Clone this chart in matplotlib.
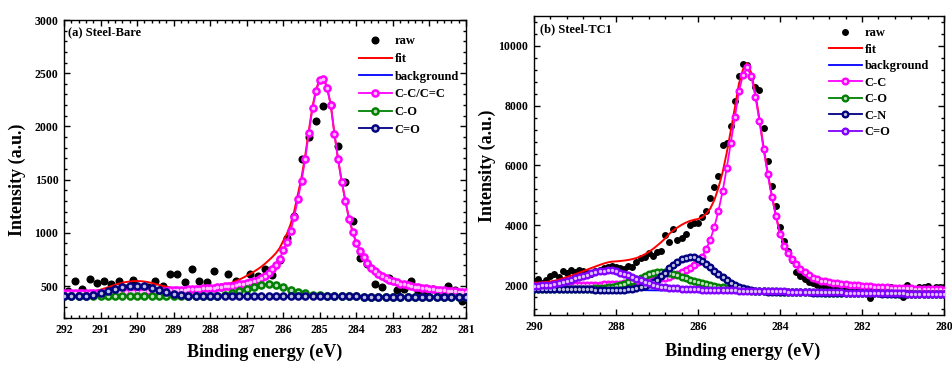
import numpy as np
import matplotlib
matplotlib.use('Agg')
import matplotlib.pyplot as plt
from matplotlib.ticker import MultipleLocator

plt.rcParams['font.family'] = 'Liberation Serif'
plt.rcParams['font.weight'] = 'bold'
plt.rcParams['axes.labelweight'] = 'bold'

# ---------------- (a) Steel-Bare ----------------
# energy grid of the fitted curves, 0.1 eV step
energy_a = np.linspace(292.0, 281.0, 111)
# raw spectrum, 0.2 eV step
raw_e_a = np.linspace(291.9, 281.1, 55)
raw_a = [455, 548, 477, 562, 533, 546, 522, 546, 480, 555,
         470, 490, 546, 500, 612, 612, 538, 658, 552, 540,
         642, 490, 610, 552, 500, 612, 598, 662, 600, 745,
         950, 1160, 1692, 1900, 2050, 2193, 2198, 1815, 1476, 1113,
         767, 708, 515, 487, 574, 462, 475, 550, 455, 440,
         470, 445, 500, 465, 360]

background_a = [406] * 16 + [405] * 18 + [404] * 16 + [403] * 16 + [402] * 16 + [401] * 16 + [400] * 13

# peak heights above the background
cc_a = [27, 27, 28, 28, 29, 29, 30, 30, 31, 32, 32, 33, 34, 34, 35, 36,
        38, 39, 40, 41, 42, 43, 44, 46, 47, 48, 50, 51, 53, 54, 56, 58, 60, 62,
        65, 67, 69, 71, 74, 76, 79, 82, 85, 88, 92, 96, 100, 105, 111, 117,
        125, 134, 144, 157, 174, 195, 222, 255, 297, 352, 432, 512, 612, 747, 917, 1082,
        1293, 1538, 1768, 1933, 2038, 2048, 1958, 1798, 1528, 1288, 1078, 898, 728, 608, 503, 428,
        369, 311, 271, 239, 213, 191, 172, 157, 144, 133, 123, 114, 106, 99, 93, 87,
        83, 78, 74, 69, 65, 62, 59, 56, 53, 50, 48, 45, 43]
co_a = [0] * 37 + [1, 2, 3, 4, 5, 7, 10, 14, 20, 28,
                   37, 46, 57, 69, 79, 89, 98, 105, 112, 116,
                   115, 110, 101, 90, 77, 64, 53, 43, 35, 29,
                   22, 17, 13, 10, 7, 5, 3, 2, 1] + [0] * 35
cdo_a = [0] * 3 + [1, 1, 2, 4, 7, 11, 19, 28, 38, 48,
                   60, 71, 80, 88, 94, 98, 100, 100, 98, 93,
                   86, 77, 66, 56, 45, 36, 28, 21, 15, 10,
                   7, 5, 3, 2, 1] + [0] * 73

# ---------------- (b) Steel-TC1 ----------------
energy_b = np.linspace(290.0, 280.0, 101)
raw_b = [2150, 2200, 2080, 2180, 2300, 2360, 2280, 2460, 2400, 2490,
         2440, 2510, 2470, 2400, 2380, 2460, 2520, 2560, 2600, 2640,
         2610, 2570, 2550, 2640, 2610, 2780, 2900, 2950, 3060, 2980,
         3110, 3150, 3660, 3450, 3880, 3520, 3560, 3700, 4020, 4080,
         4070, 4290, 4470, 4920, 5280, 5660, 6680, 6760, 7330, 8150,
         9000, 9400, 9350, 8950, 8620, 8540, 7260, 6150, 5300, 4640,
         3950, 3480, 3150, 2850, 2440, 2300, 2200, 2120, 2080, 2010,
         1970, 1930, 1900, 1880, 1860, 1870, 1850, 1880, 1860, 1890,
         1870, 1820, 1570, 1870, 1900, 1940, 1910, 1930, 1880, 1860,
         1590, 2010, 1900, 1860, 1930, 1940, 1960, 1880, 1920, 1930,
         1930]

background_b = [1880, 1878, 1876, 1874, 1872, 1870, 1869, 1867, 1865, 1863,
                1861, 1859, 1857, 1855, 1853, 1852, 1850, 1848, 1846, 1844,
                1842, 1840, 1838, 1836, 1834, 1832, 1831, 1829, 1827, 1825,
                1823, 1821, 1819, 1817, 1815, 1814, 1812, 1810, 1808, 1806,
                1804, 1802, 1800, 1798, 1796, 1794, 1793, 1791, 1789, 1787,
                1785, 1783, 1781, 1779, 1777, 1775, 1774, 1772, 1770, 1768,
                1766, 1764, 1762, 1760, 1758, 1757, 1755, 1753, 1751, 1749,
                1747, 1745, 1743, 1741, 1739, 1738, 1736, 1734, 1732, 1730,
                1728, 1726, 1724, 1722, 1720, 1718, 1717, 1715, 1713, 1711,
                1709, 1707, 1705, 1703, 1701, 1699, 1698, 1696, 1694, 1692,
                1690]

cc_b = [90, 93, 96, 99, 102, 106, 110, 114, 118, 123,
        128, 133, 139, 145, 151, 158, 165, 173, 182, 191,
        201, 212, 224, 237, 251, 267, 284, 303, 324, 347,
        372, 400, 432, 468, 510, 560, 620, 690, 770, 865,
        980, 1150, 1400, 1720, 2150, 2700, 3340, 4110, 4970, 5830,
        6710, 7250, 7500, 7200, 6520, 5700, 4770, 3930, 3180, 2530,
        1930, 1560, 1300, 1110, 940, 795, 675, 578, 500, 445,
        400, 380, 360, 340, 322, 306, 292, 280, 268, 258,
        249, 240, 232, 225, 219, 213, 208, 203, 198, 194,
        190, 186, 183, 180, 177, 174, 171, 168, 166, 163,
        161]
co_b = [4, 4, 4, 5, 5, 6, 7, 8, 9, 10,
        12, 15, 18, 23, 29, 37, 48, 62, 80, 103,
        131, 165, 205, 252, 305, 362, 420, 478, 530, 572,
        600, 613, 613, 595, 563, 520, 470, 420, 375, 330,
        290, 255, 222, 194, 170, 148, 128, 110, 95, 78,
        63, 52, 44, 37, 32, 28, 25, 22, 20, 18,
        16, 15, 14, 13, 12, 11, 10, 10, 9, 9,
        8, 7, 7, 7, 6, 6, 6, 6, 5, 5,
        5, 5, 5, 4, 4, 4, 4, 4, 4, 3,
        3, 3, 3, 3, 3, 3, 2, 2, 2, 2,
        2]
cn_b = [0] * 18 + [1, 2, 4, 8, 14, 24, 39, 61, 93, 138,
                   197, 272, 363, 471, 589, 740, 860, 960, 1045, 1105,
                   1133, 1126, 1085, 1010, 915, 805, 690, 580, 470, 370,
                   280, 210, 150, 105, 72, 48, 32, 21, 13, 8,
                   5, 3, 2, 1] + [0] * 39
cdo_b = [100, 108, 118, 125, 143, 165, 195, 235, 275, 318,
         360, 405, 450, 495, 538, 575, 610, 637, 650, 645,
         615, 580, 540, 492, 440, 385, 332, 280, 232, 190,
         158, 128, 108, 94, 83, 74, 67, 62, 58, 55,
         52, 50, 48, 45, 42, 40, 38, 36, 34, 33,
         32, 31, 30, 29, 28, 27, 26, 25, 24, 24,
         23, 22, 22, 21, 21, 20, 19, 19, 18, 18,
         17, 17, 16, 16, 15, 15, 15, 14, 14, 14,
         13, 13, 13, 12, 12, 12, 12, 11, 11, 11,
         11, 10, 10, 10, 10, 10, 9, 9, 9, 9,
         9]

PINK = '#ff00ff'
GREEN = '#008000'
NAVY = '#000080'
VIOLET = '#8000ff'


def component(ax, x, above, bg, color, ms, every, z):
    y = np.asarray(bg) + np.asarray(above)
    line, = ax.plot(x, y, '-', color=color, lw=1.3, marker='o', ms=ms,
                    mfc=color, mec=color, markevery=every, zorder=z)
    dot, = ax.plot(x[::every], y[::every], 'o', ms=ms * 0.5, color='white',
                   alpha=0.75, mec='none', zorder=z + 0.5)
    return (line, dot)


def panel(ax, x, raw_x, raw, bg, peaks, names, ms, raw_ms, every):
    raw_h, = ax.plot(raw_x, raw, 'o', color='black', ms=raw_ms, mec='none', zorder=2)
    fit = np.asarray(bg, dtype=float)
    for above, _ in peaks:
        fit = fit + np.asarray(above)
    fit_h, = ax.plot(x, fit, '-', color='red', lw=1.4, zorder=3)
    bg_h, = ax.plot(x, bg, '-', color='blue', lw=1.3, zorder=3)
    handles = [raw_h, fit_h, bg_h]
    for i, (above, color) in enumerate(peaks):
        ev = 1 if i == 0 else every
        handles.append(component(ax, x, above, bg, color, ms, ev, 4 + i))
    return handles, ['raw', 'fit', 'background'] + names


fig = plt.figure(figsize=(9.52, 3.65), dpi=100)
ax1 = fig.add_axes([0.0672, 0.1288, 0.4223, 0.8164])
ax2 = fig.add_axes([0.5609, 0.1370, 0.4307, 0.8192])

h1, l1 = panel(ax1, energy_a, raw_e_a, raw_a, background_a,
               [(cc_a, PINK), (co_a, GREEN), (cdo_a, NAVY)],
               ['C-C/C=C', 'C-O', 'C=O'], ms=5.2, raw_ms=5.8, every=2)
h2, l2 = panel(ax2, energy_b, energy_b, raw_b, background_b,
               [(cc_b, PINK), (co_b, GREEN), (cn_b, NAVY), (cdo_b, VIOLET)],
               ['C-C', 'C-O', 'C-N', 'C=O'], ms=4.8, raw_ms=5.0, every=1)

ax1.set_xlim(292, 281)
ax1.set_ylim(200, 3000)
ax1.xaxis.set_major_locator(MultipleLocator(1))
ax1.xaxis.set_minor_locator(MultipleLocator(0.2))
ax1.set_yticks([500, 1000, 1500, 2000, 2500, 3000])
ax1.yaxis.set_minor_locator(MultipleLocator(100))

ax2.set_xlim(290, 280)
ax2.set_ylim(1000, 11000)
ax2.xaxis.set_major_locator(MultipleLocator(2))
ax2.xaxis.set_minor_locator(MultipleLocator(0.4))
ax2.set_yticks([2000, 4000, 6000, 8000, 10000])
ax2.yaxis.set_minor_locator(MultipleLocator(400))

for ax in (ax1, ax2):
    ax.tick_params(which='both', direction='in', top=True, right=True,
                   width=1.0, labelsize=8.5, pad=4)
    ax.tick_params(which='major', length=4.5)
    ax.tick_params(which='minor', length=2.5)
    for s in ax.spines.values():
        s.set_linewidth(1.0)
    ax.set_xlabel('Binding energy (eV)', fontsize=13)
    ax.set_ylabel('Intensity (a.u.)', fontsize=13)

ax1.xaxis.set_label_coords(0.5, -0.085)
ax1.yaxis.set_label_coords(-0.094, 0.463)
ax2.xaxis.set_label_coords(0.51, -0.092)
ax2.yaxis.set_label_coords(-0.093, 0.5)

ax1.text(0.01, 0.958, '(a) Steel-Bare', transform=ax1.transAxes, fontsize=9, va='center')
ax2.text(0.015, 0.955, '(b) Steel-TC1', transform=ax2.transAxes, fontsize=9, va='center')

ax1.legend(h1, l1, loc='upper left', bbox_to_anchor=(0.734, 0.948), frameon=False,
           borderpad=0, borderaxespad=0, handlelength=2.6, handletextpad=0.25,
           labelspacing=0.45, fontsize=9, numpoints=1)
ax2.legend(h2, l2, loc='upper left', bbox_to_anchor=(0.72, 0.962), frameon=False,
           borderpad=0, borderaxespad=0, handlelength=2.6, handletextpad=0.25,
           labelspacing=0.36, fontsize=9, numpoints=1)

fig.savefig('out.png', dpi=100)
